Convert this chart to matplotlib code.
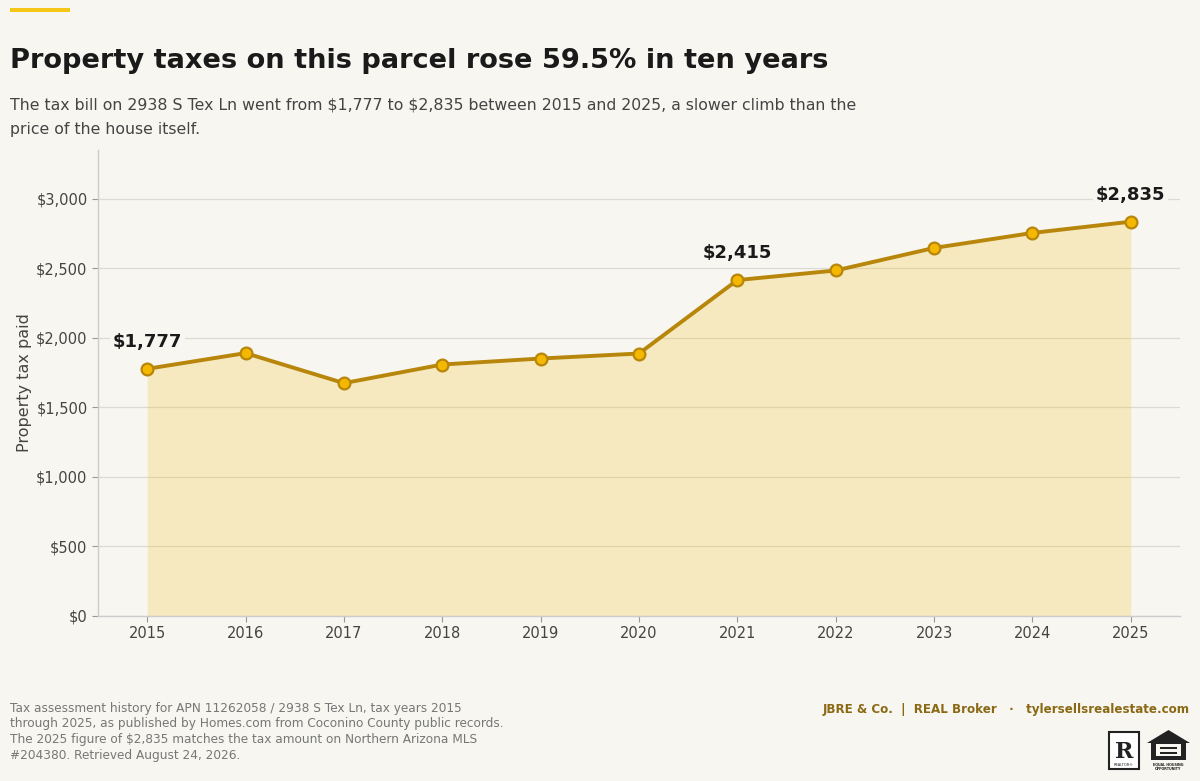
import matplotlib
matplotlib.use("Agg")
import matplotlib.pyplot as plt
from matplotlib.patches import Rectangle, Polygon
from matplotlib.ticker import FuncFormatter

# data
years = [2015, 2016, 2017, 2018, 2019, 2020, 2021, 2022, 2023, 2024, 2025]
tax = [1777, 1890, 1674, 1808, 1851, 1887, 2415, 2484, 2646, 2754, 2835]
labelled = [2015, 2021, 2025]
yticks = [0, 500, 1000, 1500, 2000, 2500, 3000]

bg = "#f7f6f1"
gold = "#f5b800"
dark_gold = "#b8860b"
txt = "#444444"

plt.rcParams['font.family'] = ['DejaVu Sans']
plt.rcParams['text.parse_math'] = False

fig = plt.figure(figsize=(12, 7.81), dpi=100, facecolor=bg)
ax = fig.add_axes([0.0817, 0.2113, 0.9016, 0.5966])
ax.set_facecolor(bg)

ax.fill_between(years, tax, 0, color=gold, alpha=0.2, lw=0, zorder=1)
ax.plot(years, tax, color=dark_gold, lw=2.8, zorder=3,
        marker="o", ms=8.5, mfc=gold, mec=dark_gold, mew=1.6)

for yr in labelled:
    v = tax[years.index(yr)]
    ax.annotate("${:,}".format(v), (yr, v), xytext=(0, 13), textcoords="offset points",
                ha="center", va="bottom", fontsize=13, fontweight="bold", color="#1a1a1a",
                bbox=dict(boxstyle="square,pad=0.15", fc=bg, ec="none"), zorder=4)

ax.set_xlim(2014.5, 2025.5)
ax.set_ylim(0, 3350)
ax.set_xticks(years)
ax.set_yticks(yticks)
ax.yaxis.set_major_formatter(FuncFormatter(lambda v, p: "${:,.0f}".format(v)))
ax.tick_params(axis="both", labelsize=10.5, labelcolor=txt, color="#999999", length=4, width=0.8)
ax.tick_params(axis="x", pad=3)
ax.grid(axis="y", color="#dcdad3", lw=0.9, zorder=0)
ax.set_axisbelow(True)
for s in ["top", "right"]:
    ax.spines[s].set_visible(False)
for s in ["left", "bottom"]:
    ax.spines[s].set_color("#cccccc")
    ax.spines[s].set_linewidth(1)
ax.set_ylabel("Property tax paid", fontsize=11.5, color=txt, labelpad=3)

# accent bar
fig.patches.append(Rectangle((10/1200, 1-12/781), 60/1200, 4/781, transform=fig.transFigure,
                             color="#f5c518", lw=0))

fig.text(10/1200, 1-68/781, "Property taxes on this parcel rose 59.5% in ten years",
         fontsize=19.6, fontweight="bold", color="#1a1a1a", va="baseline")
fig.text(10/1200, 1-98/781,
         "The tax bill on 2938 S Tex Ln went from $1,777 to $2,835 between 2015 and 2025, a slower climb than the\nprice of the house itself.",
         fontsize=11.3, color=txt, va="top", linespacing=1.75)

fig.text(10/1200, 1-702/781,
         "Tax assessment history for APN 11262058 / 2938 S Tex Ln, tax years 2015\n"
         "through 2025, as published by Homes.com from Coconino County public records.\n"
         "The 2025 figure of $2,835 matches the tax amount on Northern Arizona MLS\n"
         "#204380. Retrieved August 24, 2026.",
         fontsize=8.7, color="#777777", va="top", linespacing=1.25)

fig.text(1190/1200, 1-713/781, "JBRE & Co.  |  REAL Broker   \u00b7   tylersellsrealestate.com",
         fontsize=8.6, fontweight="bold", color="#8b6914", ha="right", va="baseline")

# realtor logo
def fx(px):
    return px / 1200
def fy(py):
    return 1 - py / 781
fig.patches.append(Rectangle((fx(1109), fy(769)), fx(30), 37/781, transform=fig.transFigure,
                             fc="white", ec="#222222", lw=1.5))
fig.text(fx(1124), fy(752), "R", fontsize=16, fontweight="bold", color="#222222",
         ha="center", va="center", family="DejaVu Serif")
fig.text(fx(1124), fy(765), "REALTOR\u00ae", fontsize=2.6, color="#222222", ha="center", va="center")

# equal housing logo
house = Polygon([(fx(1147), fy(743)), (fx(1168.5), fy(730)), (fx(1190), fy(743)),
                 (fx(1186), fy(743)), (fx(1186), fy(760)), (fx(1151), fy(760)),
                 (fx(1151), fy(743))], closed=True, transform=fig.transFigure,
                fc="#222222", ec="none")
fig.patches.append(house)
fig.patches.append(Rectangle((fx(1156), fy(756)), fx(25), 12/781, transform=fig.transFigure,
                             fc=bg, ec="none"))
fig.patches.append(Rectangle((fx(1160), fy(749)), fx(17), 2.5/781, transform=fig.transFigure,
                             fc="#222222", ec="none"))
fig.patches.append(Rectangle((fx(1160), fy(754)), fx(17), 2.5/781, transform=fig.transFigure,
                             fc="#222222", ec="none"))
fig.text(fx(1168.5), fy(764.5), "EQUAL HOUSING", fontsize=2.4, fontweight="bold", color="#222222",
         ha="center", va="center")
fig.text(fx(1168.5), fy(769), "OPPORTUNITY", fontsize=2.4, fontweight="bold", color="#222222",
         ha="center", va="center")

fig.savefig("out.png", dpi=100, facecolor=bg)
